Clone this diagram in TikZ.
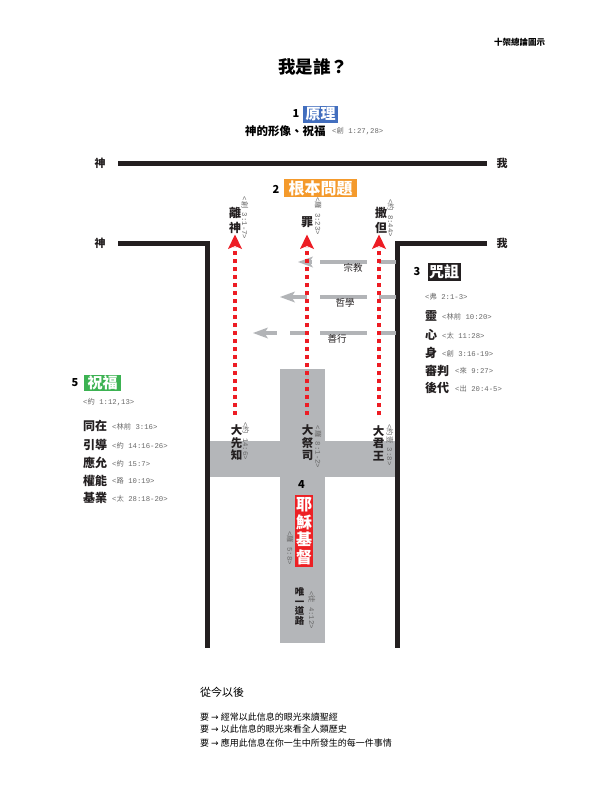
\documentclass[tikz,border=0pt]{standalone}
\usepackage{fontspec}
\setmainfont{Noto Sans CJK TC}
\newfontfamily\symf{DejaVu Sans}
\newfontfamily\vmono{Liberation Mono}
\newcommand\vrs[2]{{\vmono<}#1{\vmono\ #2>}}
\usetikzlibrary{arrows.meta}
\definecolor{wallblack}{RGB}{35,31,32}
\definecolor{crossgray}{RGB}{180,182,185}
\definecolor{arrgray}{RGB}{178,180,183}
\definecolor{versegray}{RGB}{105,105,105}
\definecolor{dotred}{RGB}{237,28,36}
\definecolor{boxblue}{RGB}{66,110,190}
\definecolor{boxorange}{RGB}{244,154,44}
\definecolor{boxgreen}{RGB}{60,178,82}
\definecolor{boxred}{RGB}{237,32,36}
\tikzset{
  wall/.style={line width=5pt, draw=wallblack, line join=miter},
  lbl/.style={font=\fontsize{12}{12}\selectfont\bfseries, inner sep=0pt, text=wallblack},
  vlbl/.style={font=\fontsize{11.5}{12.5}\selectfont\bfseries, inner sep=0pt, align=center, text=wallblack},
  verse/.style={font=\fontsize{7.3}{7.3}\selectfont, inner sep=0pt, text=versegray},
  vverse/.style={verse, rotate=-90},
  num/.style={font=\fontsize{11}{11}\selectfont\bfseries, inner sep=0pt},
  tbox/.style={fill=#1, text=white, inner sep=0pt, font=\fontsize{15}{15}\selectfont\bfseries},
  reddot/.style={line width=4pt, draw=dotred, dash pattern=on 4pt off 4pt},
  redhead/.style={fill=dotred},
  grayseg/.style={line width=4pt, draw=arrgray},
  grayhead/.style={fill=arrgray},
  small/.style={font=\fontsize{9.5}{9.5}\selectfont, inner sep=0pt, text=wallblack},
}
\begin{document}
\begin{tikzpicture}[x=1pt,y=-1pt]
\useasboundingbox[fill=white] (0,0) rectangle (595,792);

% header
\node[font=\fontsize{8.5}{8.5}\selectfont\bfseries, inner sep=0pt] (hdr) at (519.5,42) {十架總論圖示};
\node[font=\fontsize{17.5}{17.5}\selectfont\bfseries, inner sep=0pt] (title) at (313,67) {我是誰？};

% 1
\node[num] (n1) at (296,114) {1};
\node[tbox=boxblue, minimum width=35pt, minimum height=17pt] (b1) at (320.5,114) {原理};
\node[font=\fontsize{11.5}{11.5}\selectfont\bfseries, inner sep=0pt, anchor=west] (img) at (245,131) {神的形像、祝福};
\node[verse, anchor=west] (v1) at (332,131.5) {\vrs{創}{1:27,28}};

% cross
\fill[crossgray] (280,369) rectangle (325,643);
\fill[crossgray] (207,441) rectangle (398,477);

% walls
\coordinate (t1) at (118,163);
\coordinate (t2) at (487,163);
\draw[wall] (t1) -- (t2);
\coordinate (l1) at (118,243);
\coordinate (l2) at (207.5,243);
\coordinate (l3) at (207.5,648);
\coordinate (r1) at (487,243);
\coordinate (r2) at (397.5,243);
\coordinate (r3) at (397.5,648);
\draw[wall] (l1) -- (l2) -- (l3);
\draw[wall] (r1) -- (r2) -- (r3);
\node[lbl, font=\fontsize{11}{11}\selectfont\bfseries] (g1) at (100,163) {神};
\node[lbl, font=\fontsize{11}{11}\selectfont\bfseries] (g2) at (100,243) {神};
\node[lbl, font=\fontsize{11}{11}\selectfont\bfseries] (w1) at (502,163) {我};
\node[lbl, font=\fontsize{11}{11}\selectfont\bfseries] (w2) at (502,243) {我};

% 2
\node[num] (n2) at (276,189) {2};
\node[tbox=boxorange, minimum width=73pt, minimum height=18pt, font=\fontsize{16}{16}\selectfont\bfseries] (b2) at (320.5,188) {根本問題};

\node[vlbl, font=\fontsize{12}{14.5}\selectfont\bfseries] (lg) at (235,220.5) {離\\神};
\node[vverse] (vlg) at (245,218) {\vrs{創}{3:1-7}};
\node[lbl] (sin) at (307,222) {罪};
\node[vverse] (vsin) at (318,216) {\vrs{羅}{3:23}};
\node[vlbl, font=\fontsize{12}{14.5}\selectfont\bfseries] (sat) at (381,220.5) {撒\\但};
\node[vverse] (vsat) at (391,218) {\vrs{約}{8:44}};

% gray arrows (religion, philosophy, good works)
\coordinate (ga1) at (298,262);
\coordinate (ga2) at (280,297);
\coordinate (ga3) at (253,333);
\foreach \y in {262,297,333}{
  \draw[grayseg] (320,\y) -- (367,\y);
  \draw[grayseg] (379,\y) -- (396,\y);
}
\fill[grayhead] (ga1) -- ++(15,-5.5) -- ++(-3.5,5.5) -- ++(3.5,5.5) -- cycle;
\draw[grayseg] (309,262) -- (312,262);
\fill[grayhead] (ga2) -- ++(15,-5.5) -- ++(-3.5,5.5) -- ++(3.5,5.5) -- cycle;
\draw[grayseg] (291,297) -- (307,297);
\fill[grayhead] (ga3) -- ++(15,-5.5) -- ++(-3.5,5.5) -- ++(3.5,5.5) -- cycle;
\draw[grayseg] (264,333) -- (277,333);
\draw[grayseg] (290,333) -- (308,333);
\node[small] (rel) at (353,268) {宗教};
\node[small] (phi) at (345,303) {哲學};
\node[small] (gw) at (337,339) {善行};

% red dotted arrows
\foreach \x/\nm in {235/a,307/b,379/c}{
  \coordinate (rs\nm) at (\x,415);
  \coordinate (re\nm) at (\x,247);
  \coordinate (rt\nm) at (\x,234.5);
  \draw[reddot] (rs\nm) -- (re\nm);
  \fill[redhead] (rt\nm) -- ++(7,14.5) -- ++(-7,-3) -- ++(-7,3) -- cycle;
}

% cross labels
\node[vlbl] (pro) at (236.5,443) {大\\先\\知};
\node[vverse] (vpro) at (246,441) {\vrs{約}{14:6}};
\node[vlbl] (pri) at (307.5,443) {大\\祭\\司};
\node[vverse] (vpri) at (318,447) {\vrs{羅}{8:1-2}};
\node[vlbl] (kin) at (378.5,443) {大\\君\\王};
\node[vverse] (vkin) at (390,445) {\vrs{約壹}{3:8}};

% 4
\node[num] (n4) at (301.5,485) {4};
\node[tbox=boxred, minimum width=18pt, minimum height=72pt, align=center, font=\fontsize{16}{17.5}\selectfont\bfseries] (b4) at (304,531) {耶\\穌\\基\\督};
\node[vverse] (vb4) at (290,548) {\vrs{羅}{5:8}};
\node[vlbl, font=\fontsize{9.5}{9.7}\selectfont\bfseries] (way) at (299.5,606.5) {唯\\一\\道\\路};
\node[vverse] (vway) at (312,610) {\vrs{徒}{4:12}};

% 3
\node[num] (n3) at (417,272) {3};
\node[tbox=wallblack, minimum width=33pt, minimum height=18pt] (b3) at (444,272) {咒詛};
\node[verse, anchor=west] (v3) at (425,297) {\vrs{弗}{2:1-3}};
\node[lbl, anchor=west] (c1) at (425,316) {靈};
\node[verse, anchor=west] (vc1) at (442,316.5) {\vrs{林前}{10:20}};
\node[lbl, anchor=west] (c2) at (425,335) {心};
\node[verse, anchor=west] (vc2) at (442,335.5) {\vrs{太}{11:28}};
\node[lbl, anchor=west] (c3) at (425,353) {身};
\node[verse, anchor=west] (vc3) at (442,353.5) {\vrs{創}{3:16-19}};
\node[lbl, anchor=west] (c4) at (425,370.5) {審判};
\node[verse, anchor=west] (vc4) at (455,371) {\vrs{來}{9:27}};
\node[lbl, anchor=west] (c5) at (425,388) {後代};
\node[verse, anchor=west] (vc5) at (455,388.5) {\vrs{出}{20:4-5}};

% 5
\node[num] (n5) at (75,383) {5};
\node[tbox=boxgreen, minimum width=37pt, minimum height=16pt] (b5) at (102.5,383) {祝福};
\node[verse, anchor=west] (v5) at (83,402) {\vrs{約}{1:12,13}};
\node[lbl, anchor=west] (e1) at (83,426) {同在};
\node[verse, anchor=west] (ve1) at (112,426.5) {\vrs{林前}{3:16}};
\node[lbl, anchor=west] (e2) at (83,445) {引導};
\node[verse, anchor=west] (ve2) at (112,445.5) {\vrs{約}{14:16-26}};
\node[lbl, anchor=west] (e3) at (83,463) {應允};
\node[verse, anchor=west] (ve3) at (112,463.5) {\vrs{約}{15:7}};
\node[lbl, anchor=west] (e4) at (83,480.5) {權能};
\node[verse, anchor=west] (ve4) at (112,481) {\vrs{路}{10:19}};
\node[lbl, anchor=west] (e5) at (83,498) {基業};
\node[verse, anchor=west] (ve5) at (112,498.5) {\vrs{太}{28:18-20}};

% bottom text
\node[font=\fontsize{11}{11}\selectfont, inner sep=0pt, anchor=west] (from) at (200,692) {從今以後};
\node[font=\fontsize{9}{9}\selectfont, inner sep=0pt, anchor=west] (m1) at (200,717) {要 {\symf →} 經常以此信息的眼光來讀聖經};
\node[font=\fontsize{9}{9}\selectfont, inner sep=0pt, anchor=west] (m2) at (200,729.5) {要 {\symf →} 以此信息的眼光來看全人類歷史};
\node[font=\fontsize{9}{9}\selectfont, inner sep=0pt, anchor=west] (m3) at (200,743) {要 {\symf →} 應用此信息在你一生中所發生的每一件事情};
\end{tikzpicture}
\end{document}
